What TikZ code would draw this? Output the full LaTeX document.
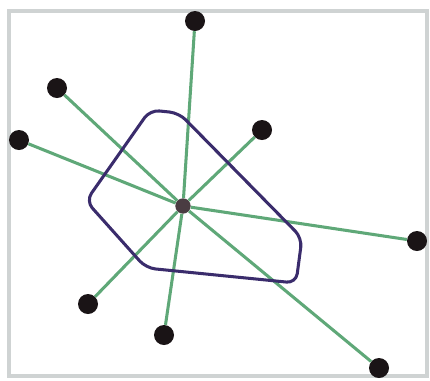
\documentclass[tikz,border=0pt]{standalone}
\definecolor{dotblack}{HTML}{1A1416}
\definecolor{hubgray}{HTML}{4A3C42}
\definecolor{spokegreen}{HTML}{5FA878}
\definecolor{hullblue}{HTML}{3A2C6C}
\definecolor{framegray}{HTML}{CFD3D3}
\begin{document}
\begin{tikzpicture}[
            x=0.03cm, y=-0.03cm,
            dot/.style={circle, fill=dotblack, minimum size=6mm, inner sep=0pt},
            hub/.style={circle, fill=hubgray, minimum size=4.6mm, inner sep=0pt},
            spoke/.style={draw=spokegreen, line width=2.6pt},
            hull/.style={draw=hullblue, line width=2.6pt, rounded corners=8pt}
        ]
        \useasboundingbox (0,0) rectangle (430,380);
        \draw[framegray, line width=3pt] (9,11) rectangle (427,376);
        % centre and the outer points
        \node[hub] (c) at (183,206) {};
        \node[dot] (n)  at (195,21) {};
        \node[dot] (nw) at (57,88) {};
        \node[dot] (w)  at (19,140) {};
        \node[dot] (ne) at (262,130) {};
        \node[dot] (e)  at (417,241) {};
        \node[dot] (sw) at (88,304) {};
        \node[dot] (s)  at (164,335) {};
        \node[dot] (se) at (379,368) {};
        \foreach \p in {n,nw,w,ne,e,sw,s,se}
            \draw[spoke] (c) -- (\p);
        % hull
        \draw[hull] (86,201) -- (150,110) -- (179,113) -- (302,238) -- (296,283) -- (146,268) -- cycle;
    \end{tikzpicture}
\end{document}
